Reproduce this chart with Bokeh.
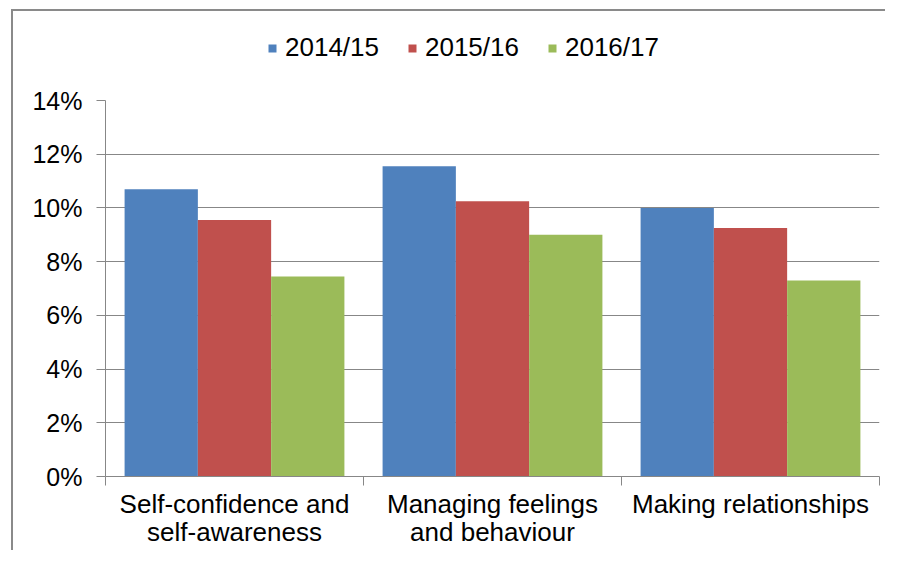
import numpy as np
from bokeh.plotting import figure
from bokeh.layouts import column
from bokeh.models import (Range1d, FixedTicker, PrintfTickFormatter, Legend,
                          LegendItem)
from bokeh.embed import file_html
from bokeh.resources import INLINE

# ---- data ----
categories = ["Self-confidence and\nself-awareness",
              "Managing feelings\nand behaviour",
              "Making relationships"]
series = ["2014/15", "2015/16", "2016/17"]
v_2014_15 = [10.7, 11.55, 10.0]
v_2015_16 = [9.55, 10.25, 9.25]
v_2016_17 = [7.45, 9.0, 7.3]
y_ticks = [0, 2, 4, 6, 8, 10, 12, 14]

colors = ["#4F81BD", "#C0504D", "#9BBB59"]
FONT = "Liberation Sans"
GRID = "#878787"
FRAME_COL = "#8a8a8a"

W = 872
LEG_H = 74
H = 465
L, R, T, B = 92, 6, 15, 73
YMAX = 14

# ---- legend strip (its own figure so nothing is clipped) ----
lf = figure(width=W, height=LEG_H, output_backend="svg", toolbar_location=None,
            title=None, x_axis_location=None, y_axis_location=None,
            x_range=Range1d(0, 1), y_range=Range1d(0, 1),
            min_border_left=L, min_border_right=R, min_border_top=0,
            min_border_bottom=0)
lf.outline_line_color = None
lf.xgrid.visible = False
lf.ygrid.visible = False
# zero-size placeholder glyphs that only supply the legend swatches
leg_renderers = [lf.vbar(x=[0], top=[0], bottom=[0], width=0, fill_color=c,
                         line_color=None) for c in colors]
legend = Legend(items=[LegendItem(label=s, renderers=[r])
                       for s, r in zip(series, leg_renderers)],
                orientation="horizontal", location=(162, 22),
                glyph_width=10, glyph_height=10, label_standoff=8,
                spacing=28, padding=0, margin=0,
                border_line_color=None, background_fill_alpha=0,
                label_text_font=FONT, label_text_font_size="26px",
                label_text_color="black")
lf.add_layout(legend, "center")

# ---- main chart ----
p = figure(width=W, height=H, output_backend="svg", toolbar_location=None,
           title=None,
           x_range=Range1d(0, len(categories)), y_range=Range1d(0, YMAX),
           min_border_left=L, min_border_right=R, min_border_top=T,
           min_border_bottom=B)
p.outline_line_color = None

centers = np.arange(len(categories)) + 0.5
bw = 0.284
offsets = [-bw, 0.0, bw]
for vals, off, col in zip([v_2014_15, v_2015_16, v_2016_17], offsets, colors):
    p.vbar(x=centers + off, top=vals, width=bw, fill_color=col,
           line_color=None)

# grid
p.xgrid.visible = False
p.ygrid.ticker = FixedTicker(ticks=y_ticks)
p.ygrid.grid_line_color = GRID
p.ygrid.grid_line_width = 1

# y axis
ya = p.yaxis[0]
ya.ticker = FixedTicker(ticks=y_ticks)
ya.formatter = PrintfTickFormatter(format="%d%%")
ya.major_tick_out = 9
ya.major_tick_in = 0
ya.minor_tick_out = 0
ya.minor_tick_in = 0
ya.axis_line_color = GRID
ya.major_tick_line_color = GRID
ya.major_label_standoff = 14
ya.major_label_text_font = FONT
ya.major_label_text_font_size = "25px"
ya.major_label_text_color = "black"

# x axis
xa = p.xaxis[0]
xa.ticker = FixedTicker(ticks=list(centers),
                        minor_ticks=list(range(len(categories) + 1)))
xa.major_label_overrides = {float(c): lab for c, lab in zip(centers, categories)}
xa.major_tick_out = 0
xa.major_tick_in = 0
xa.minor_tick_out = 9
xa.minor_tick_in = 0
xa.axis_line_color = GRID
xa.minor_tick_line_color = GRID
xa.major_label_standoff = 3
xa.major_label_text_font = FONT
xa.major_label_text_font_size = "26px"
xa.major_label_text_color = "black"
xa.major_label_text_line_height = 0.95

layout = column(lf, p, spacing=0,
                styles={"margin-left": "11px", "margin-top": "9px",
                        "border-left": f"2px solid {FRAME_COL}",
                        "border-top": f"2px solid {FRAME_COL}"})

open("out.html", "w").write(file_html(layout, INLINE))
